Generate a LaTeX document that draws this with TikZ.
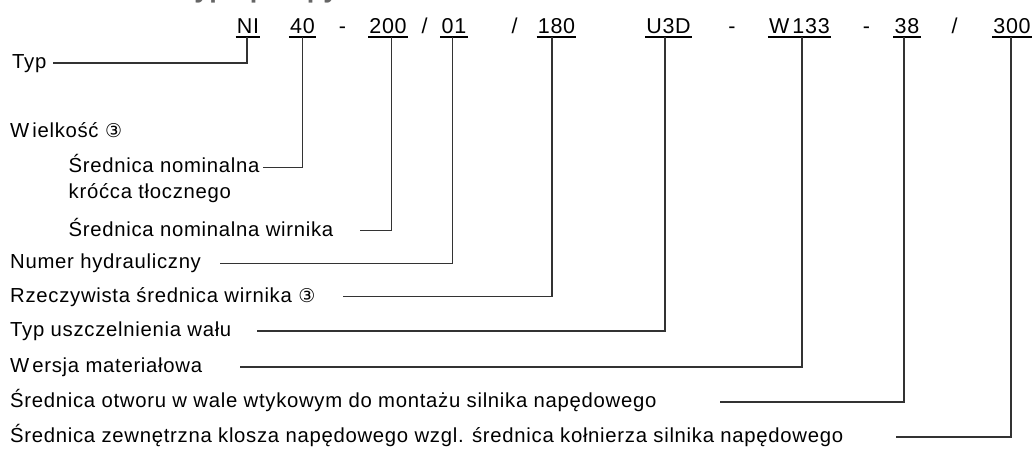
\documentclass[tikz,border=0pt]{standalone}
\usepackage{fontspec}
\setmainfont{Liberation Sans}[LetterSpace=3.5]
\newfontfamily\symfont{DejaVu Sans}
\newfontfamily\headfont{Liberation Sans Bold}
\newcommand{\circthree}{{\symfont\fontsize{19}{22}\selectfont ③}}
\begin{document}
\begin{tikzpicture}[x=1pt,y=-1pt,
  lab/.style={anchor=base west,inner sep=0pt,font=\fontsize{20.3}{24}\selectfont},
  code/.style={anchor=base,inner sep=0pt,font=\fontsize{21.5}{26}\selectfont},
  uline/.style={line width=1.8pt,black},
  lead/.style={line width=1.1pt,draw=black!80}]
\useasboundingbox (0,0) rectangle (1035,448);
% header (cut off at the top)
\node[anchor=base east,inner sep=0pt,text=black!60,font=\headfont\fontsize{27}{30}\selectfont] (head) at (338.5,-2.2) {Oznaczenie typu pompy};
% code
\node[code] (c1) at (248,33.3) {NI};
\node[code] (c2) at (302.5,33.3) {40};
\node[code] (d1) at (342.5,33.3) {-};
\node[code] (c3) at (388,33.3) {200};
\node[code] (s1) at (424.5,33.3) {/};
\node[code] (c4) at (454,33.3) {01};
\node[code] (s2) at (514.5,33.3) {/};
\node[code] (c5) at (556.5,33.3) {180};
\node[code] (c6) at (668.5,33.3) {U3D};
\node[code] (d2) at (732,33.3) {-};
\node[code] (c7) at (799.5,33.3) {W\kern3pt133};
\node[code] (d3) at (866.5,33.3) {-};
\node[code] (c8) at (907,33.3) {38};
\node[code] (s3) at (954.5,33.3) {/};
\node[code] (c9) at (1012,33.3) {300};
\foreach \c in {c1,c2,c3,c4,c5,c6,c7,c8,c9}
  \draw[uline] ([xshift=-1pt,yshift=-3.3pt]\c.base west) -- ([xshift=1pt,yshift=-3.3pt]\c.base east);
% underline anchor points of leaders
\coordinate (u1) at (247,37);
\coordinate (u2) at (302.7,37);
\coordinate (u3) at (391.7,37);
\coordinate (u4) at (452.3,37);
\coordinate (u5) at (552,37);
\coordinate (u6) at (665,37);
\coordinate (u7) at (802,37);
\coordinate (u8) at (904,37);
\coordinate (u9) at (1011,37);
% labels
\node[lab] (l1) at (12,68.5) {Typ};
\node[lab] (lw) at (10,137) {W\kern3pt ielkość \circthree};
\node[lab] (l2) at (68.5,172.8) {Średnica nominalna};
\node[lab] (l2b) at (68.5,198.5) {króćca tłocznego};
\node[lab] (l3) at (68.5,236.2) {Średnica nominalna wirnika};
\node[lab] (l4) at (10,268.8) {Numer hydrauliczny};
\node[lab] (l5) at (10,302.2) {Rzeczywista średnica wirnika \circthree};
\node[lab] (l6) at (10,336.5) {Typ uszczelnienia wału};
\node[lab] (l7) at (10,372.5) {W\kern3pt ersja materiałowa};
\node[lab] (l8) at (10,407.5) {Średnica otworu w wale wtykowym do montażu silnika napędowego};
\node[lab] (l9) at (10,442.5) {Średnica zewnętrzna klosza napędowego wzgl. średnica kołnierza silnika napędowego};
% leader starts
\coordinate (a1) at (53,63);
\coordinate (a2) at (263,167.3);
\coordinate (a3) at (360,230.7);
\coordinate (a4) at (220,263.3);
\coordinate (a5) at (343,296.7);
\coordinate (a6) at (257,331);
\coordinate (a7) at (240,367);
\coordinate (a8) at (720,402);
\coordinate (a9) at (896,437);
\foreach \i in {1,...,9}
  \draw[lead] (a\i) -| (u\i);
\end{tikzpicture}
\end{document}
